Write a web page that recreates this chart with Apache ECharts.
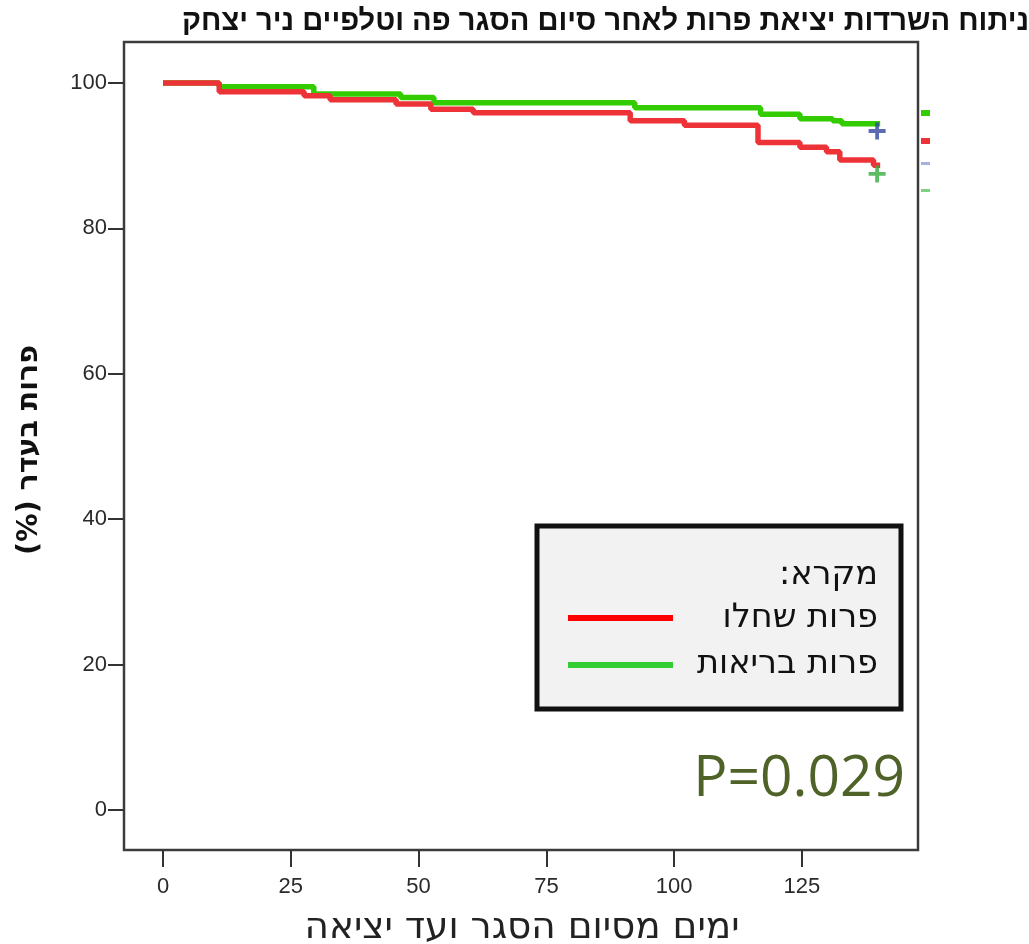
<!DOCTYPE html>
<html>
<head>
<meta charset="utf-8">
<script src="https://cdn.jsdelivr.net/npm/echarts@6/dist/echarts.min.js"></script>
<style>
html,body{margin:0;padding:0;background:#fff;}
#chart{width:1029px;height:944px;}
</style>
</head>
<body>
<div id="chart"></div>
<script>
// ---- data ----
const titleText = 'ניתוח השרדות יציאת פרות לאחר סיום הסגר פה וטלפיים ניר יצחק';
const xAxisName = 'ימים מסיום הסגר ועד יציאה';
const yAxisName = 'פרות בעדר (%)\u200F';
const legendTitle = 'מקרא:\u200F';
const seriesNames = ['פרות שחלו', 'פרות בריאות'];
const pValueText = 'P=0.029';

const xTicks = [0, 25, 50, 75, 100, 125];
const yTicks = [0, 20, 40, 60, 80, 100];

// sick cows (red) Kaplan-Meier steps
const redTimes = [0, 11, 27.6, 32.7, 45.6, 52.4, 60.7, 91.4, 102, 116.4, 124.6, 129.8, 132.4, 139, 140.3];
const redSurv  = [100, 98.8, 98.25, 97.7, 97.1, 96.4, 95.9, 94.8, 94.2, 91.8, 91.15, 90.55, 89.4, 88.7, 88.7];
// healthy cows (green)
const greenTimes = [0, 11, 29.5, 46.5, 53, 92.3, 116.9, 124.6, 131, 132.8, 140.3];
const greenSurv  = [100, 99.5, 98.5, 98.0, 97.3, 96.6, 95.7, 95.1, 94.8, 94.4, 94.4];
// censor markers
const censorBlue  = [[139.7, 93.4]];
const censorGreen = [[139.7, 87.5]];

const pair = (t, s) => t.map((v, i) => [v, s[i]]);

// choose a font size so the text spans a given width
const mctx = document.createElement('canvas').getContext('2d');
function fitSize(text, weight, family, targetWidth) {
  mctx.font = weight + ' 100px ' + family;
  const w = mctx.measureText(text).width;
  return Math.round(100 * targetWidth / w * 10) / 10;
}
const hebFam = '"DejaVu Sans",sans-serif';
const titleFam = '"Liberation Sans",sans-serif';
const titleSize = fitSize(titleText, 'bold', titleFam, 846);
const xNameSize = fitSize(xAxisName, 'normal', hebFam, 435);
const yNameSize = fitSize(yAxisName, 'bold', hebFam, 210);
const legSize = fitSize(seriesNames[1], 'normal', hebFam, 181);
const pSize = fitSize(pValueText, 'normal', '"Open Sans",sans-serif', 212);

const plusPath = 'path://M6.2,0H9.8V6.2H16V9.8H9.8V16H6.2V9.8H0V6.2H6.2Z';

const chart = echarts.init(document.getElementById('chart'));
const tickFont = {fontFamily: '"Liberation Sans",sans-serif', fontSize: 22, color: '#2a2a2a'};

chart.setOption({
  animation: false,
  backgroundColor: '#fff',
  grid: {left: 124, top: 42, width: 794, height: 808, show: true, borderColor: '#3c3c3c', borderWidth: 2.5, backgroundColor: '#fff'},
  xAxis: {
    type: 'value', min: -7.63, max: 147.7, position: 'bottom',
    splitLine: {show: false},
    axisLine: {show: false, onZero: false},
    axisTick: {show: true, customValues: xTicks, length: 17, lineStyle: {color: '#333', width: 2}},
    axisLabel: Object.assign({customValues: xTicks, margin: 26}, tickFont)
  },
  yAxis: {
    type: 'value', min: -5.5, max: 105.64, position: 'left',
    splitLine: {show: false},
    axisLine: {show: false, onZero: false},
    axisTick: {show: true, customValues: yTicks, length: 16, lineStyle: {color: '#333', width: 2}},
    axisLabel: Object.assign({customValues: yTicks, margin: 17}, tickFont)
  },
  series: [
    {name: seriesNames[1], type: 'line', step: 'end', data: pair(greenTimes, greenSurv), showSymbol: false,
     lineStyle: {color: '#33cc00', width: 5.5}, z: 2},
    {name: seriesNames[0], type: 'line', step: 'end', data: pair(redTimes, redSurv), showSymbol: false,
     lineStyle: {color: '#ee3338', width: 5.5}, z: 3},
    {type: 'scatter', data: censorBlue, symbol: plusPath, symbolSize: 17, itemStyle: {color: '#33479f'}, z: 4},
    {type: 'scatter', data: censorGreen, symbol: plusPath, symbolSize: 17, itemStyle: {color: '#35ad3f'}, z: 4}
  ],
  graphic: [
    {type: 'text', x: 1029, y: 22, style: {text: titleText, font: 'bold ' + titleSize + 'px ' + titleFam, fill: '#111', align: 'right', verticalAlign: 'middle'}},
    {type: 'text', x: 522, y: 928, style: {text: xAxisName, font: xNameSize + 'px ' + hebFam, fill: '#222', align: 'center', verticalAlign: 'middle'}},
    {type: 'text', x: 30, y: 450, rotation: Math.PI / 2, style: {text: yAxisName, font: 'bold ' + yNameSize + 'px ' + hebFam, fill: '#111', align: 'center', verticalAlign: 'middle'}},
    // cut-off swatches outside the plot frame
    {type: 'rect', shape: {x: 921, y: 110, width: 9, height: 6}, style: {fill: '#33cc00'}},
    {type: 'rect', shape: {x: 921, y: 138, width: 9, height: 6}, style: {fill: '#ee3338'}},
    {type: 'rect', shape: {x: 921, y: 162, width: 9, height: 3}, style: {fill: '#a4b2dc'}},
    {type: 'rect', shape: {x: 921, y: 189, width: 9, height: 3}, style: {fill: '#7fd07f'}},
    // legend box
    {type: 'rect', shape: {x: 537, y: 526, width: 364, height: 183}, style: {fill: '#f2f2f2', stroke: '#111', lineWidth: 5}, z: 10},
    {type: 'text', x: 878, y: 575, z: 11, style: {text: legendTitle, font: legSize + 'px ' + hebFam, fill: '#111', align: 'right', verticalAlign: 'middle'}},
    {type: 'text', x: 878, y: 618, z: 11, style: {text: seriesNames[0], font: legSize + 'px ' + hebFam, fill: '#111', align: 'right', verticalAlign: 'middle'}},
    {type: 'text', x: 878, y: 664, z: 11, style: {text: seriesNames[1], font: legSize + 'px ' + hebFam, fill: '#111', align: 'right', verticalAlign: 'middle'}},
    {type: 'rect', z: 11, shape: {x: 568, y: 615, width: 105, height: 6}, style: {fill: '#ff0000'}},
    {type: 'rect', z: 11, shape: {x: 568, y: 662, width: 105, height: 6}, style: {fill: '#33cc33'}},
    {type: 'text', x: 905, y: 780, z: 11, style: {text: pValueText, font: pSize + 'px "Open Sans",sans-serif', fill: '#4f6228', align: 'right', verticalAlign: 'middle'}}
  ]
});
</script>
</body>
</html>
